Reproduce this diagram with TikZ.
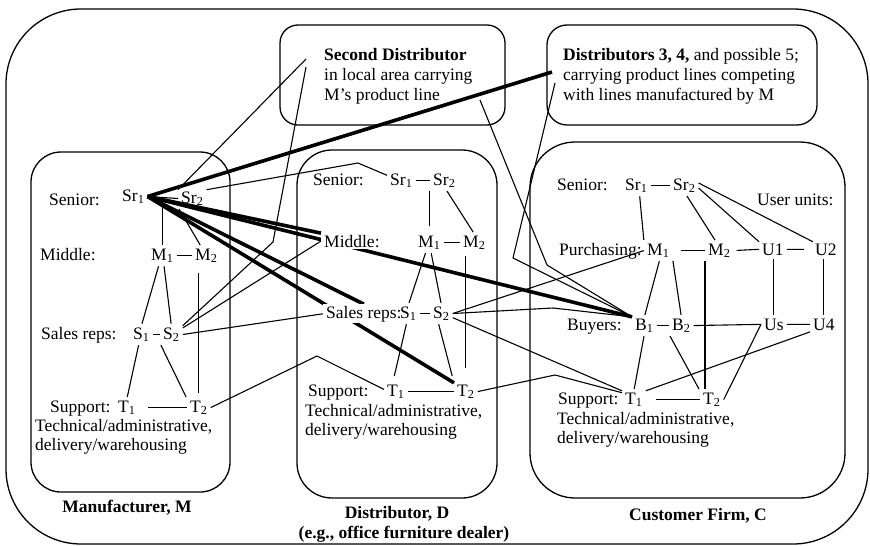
\documentclass[tikz,border=0pt]{standalone}
\usepackage{fontspec}
\setmainfont{Liberation Serif}
\usetikzlibrary{calc}
\pgfdeclarelayer{edges}
\pgfsetlayers{edges,main}

\begin{document}
\begin{tikzpicture}[x=1pt,y=-1pt,
  every node/.style={font=\fontsize{17.5pt}{19.5pt}\selectfont},
  lab/.style={anchor=base west, inner xsep=3pt, inner ysep=1.5pt},
  txt/.style={anchor=base west, inner sep=0pt},
  ttl/.style={anchor=base, inner sep=0pt, font=\fontsize{17.5pt}{19.5pt}\selectfont\bfseries},
  cover/.style={fill=white},
  frame/.style={draw, line width=1.3pt, inner sep=0pt},
  link/.style={line width=1.1pt},
  strong/.style={line width=3.6pt},
]
\useasboundingbox (0,0) rectangle (870,546);

% ---- enclosing frames ----
\node[frame, rounded corners=75pt, minimum width=862pt, minimum height=535pt] (outer) at (437,276.5) {};
\node[frame, rounded corners=18pt, minimum width=225pt, minimum height=100pt] (sdBox) at (392.5,75) {};
\node[frame, rounded corners=20pt, minimum width=270pt, minimum height=100pt] (oBox) at (682,75) {};
\node[frame, rounded corners=30pt, minimum width=199pt, minimum height=340pt] (mBox) at (130.5,322) {};
\node[frame, rounded corners=35pt, minimum width=200pt, minimum height=348pt] (dBox) at (397,324) {};
\node[frame, rounded corners=45pt, minimum width=315pt, minimum height=356pt] (cBox) at (687.5,320) {};

% ---- other distributors ----
\node[txt] (sdA) at (324,60) {\bfseries Second Distributor};
\node[txt] (sdB) at (324,80) {in local area carrying};
\node[txt] (sdC) at (324,100) {M’s product line};
\node[txt] (oA) at (563,60) {\textbf{Distributors 3, 4,} and possible 5;};
\node[txt] (oB) at (563,80) {carrying product lines competing};
\node[txt] (oC) at (563,100) {with lines manufactured by M};

% ---- manufacturer ----
\node[lab] (mSen) at (46,205) {Senior:};
\node[lab] (mSr1) at (119,201) {Sr\textsubscript{1}};
\node[lab] (mSr2) at (178,203) {Sr\textsubscript{2}};
\node[lab] (mMid) at (37,260) {Middle:};
\node[lab] (mM1) at (148,260) {M\textsubscript{1}};
\node[lab] (mM2) at (192,260) {M\textsubscript{2}};
\node[lab] (mSal) at (38,339) {Sales reps:};
\node[lab] (mS1) at (130,339) {S\textsubscript{1}};
\node[lab] (mS2) at (160,339) {S\textsubscript{2}};
\node[lab] (mSup) at (47,412) {Support:};
\node[lab] (mT1) at (115,412) {T\textsubscript{1}};
\node[lab] (mT2) at (187,412) {T\textsubscript{2}};
\node[txt] (mTech) at (35,431) {Technical/administrative,};
\node[txt] (mDel) at (35,450) {delivery/warehousing};
\node[ttl] (mName) at (127,512) {Manufacturer, M};

% ---- distributor ----
\node[lab] (dSen) at (310,185) {Senior:};
\node[lab] (dSr1) at (387,185) {Sr\textsubscript{1}};
\node[lab] (dSr2) at (430,185) {Sr\textsubscript{2}};
\node[lab, cover] (dMid) at (321,247) {Middle:};
\node[lab] (dM1) at (415,247) {M\textsubscript{1}};
\node[lab] (dM2) at (460,247) {M\textsubscript{2}};
\node[lab, cover] (dSal) at (323,318) {Sales reps:};
\node[lab] (dS1) at (397,318) {S\textsubscript{1}};
\node[lab] (dS2) at (430,318) {S\textsubscript{2}};
\node[lab] (dSup) at (305,396) {Support:};
\node[lab] (dT1) at (384,396) {T\textsubscript{1}};
\node[lab] (dT2) at (454,396) {T\textsubscript{2}};
\node[txt] (dTech) at (305,416) {Technical/administrative,};
\node[txt] (dDel) at (305,435) {delivery/warehousing};
\node[ttl] (dName) at (397,518) {Distributor, D};
\node[ttl] (dNote) at (404,538) {(e.g., office furniture dealer)};

% ---- customer ----
\node[lab] (cSen) at (554,190) {Senior:};
\node[lab] (cSr1) at (622,190) {Sr\textsubscript{1}};
\node[lab] (cSr2) at (670,190) {Sr\textsubscript{2}};
\node[lab] (cUsr) at (754,205) {User units:};
\node[lab] (cPur) at (556,255) {Purchasing:};
\node[lab] (cM1) at (644,255) {M\textsubscript{1}};
\node[lab] (cM2) at (705,255) {M\textsubscript{2}};
\node[lab] (cU1) at (759,255) {U1};
\node[lab] (cU2) at (812,255) {U2};
\node[lab] (cBuy) at (564,330) {Buyers:};
\node[lab] (cB1) at (632,330) {B\textsubscript{1}};
\node[lab] (cB2) at (669,330) {B\textsubscript{2}};
\node[lab] (cUs) at (761,330) {Us};
\node[lab] (cU4) at (810,330) {U4};
\node[lab] (cSup) at (555,404) {Support:};
\node[lab] (cT1) at (622,404) {T\textsubscript{1}};
\node[lab] (cT2) at (700,404) {T\textsubscript{2}};
\node[txt] (cTech) at (557,424) {Technical/administrative,};
\node[txt] (cDel) at (557,443) {delivery/warehousing};
\node[ttl] (cName) at (698,520) {Customer Firm, C};

% ---- ports and bends ----
\coordinate (oThick) at (552,72);
\coordinate (oIn) at (555,83);
\coordinate (sdIn1) at (306,59);
\coordinate (sdIn2) at (306,67);
\coordinate (sdOut) at (480,100);
\coordinate (bendA) at (358,163);
\coordinate (bendB) at (273,242);
\coordinate (bendC) at (317,356);
\coordinate (bendD) at (555,375);
\coordinate (bendE) at (553,308);
\coordinate (bendF) at (547,265);
\coordinate (bendG) at (513,258);

\begin{pgfonlayer}{edges}
% manufacturer, internal
\draw[link] (mSr1.east) -- (mSr2.west);
\draw[link, shorten <=2pt, shorten >=2pt] (mM1.north) -- (mM1.north |- mSr1.south);
\draw[link, shorten <=2pt, shorten >=2pt] (mSr2.south west) -- (mM2.120);
\draw[link] (mM1.east) -- (mM2.west);
\draw[link, shorten <=2pt, shorten >=2pt] (mM1.-110) -- (mS1.north);
\draw[link, shorten <=2pt, shorten >=2pt] (mM1.-80) -- (mS2.north);
\draw[link] (mS1.east) -- (mS2.west);
\draw[link, shorten <=9pt, shorten >=6pt] (mM2.south -| mT2.north) -- (mT2.north);
\draw[link, shorten <=2pt, shorten >=2pt] (mS1.-105) -- (mT1.north);
\draw[link, shorten <=2pt, shorten >=2pt] (mS2.south west) -- (mT2.north west);
\draw[link, shorten <=9pt] (mT1.east) -- (mT2.west);

% distributor, internal
\draw[link] (dSr1.east) -- (dSr2.west);
\draw[link, shorten <=2pt, shorten >=8pt] (dM1.north |- dSr1.south) -- (dM1.north);
\draw[link, shorten <=2pt, shorten >=2pt] (dSr2.-80) -- (dM2.north);
\draw[link] (dM1.east) -- (dM2.west);
\draw[link, shorten <=2pt, shorten >=2pt] (dM1.-110) -- (dS1.north);
\draw[link, shorten <=2pt, shorten >=2pt] (dM1.-80) -- (dS2.north);
\draw[link] (dS1.east) -- (dS2.west);
\draw[link, shorten <=5pt, shorten >=15pt] (dM2.south -| dT2.north) -- (dT2.north);
\draw[link, shorten <=2pt, shorten >=7pt] (dS1.-100) -- (dT1.110);
\draw[link, shorten <=2pt, shorten >=7pt] (dS2.-110) -- (dT2.north west);
\draw[link] (dT1.east) -- (dT2.west);

% customer, internal
\draw[link] (cSr1.east) -- (cSr2.west);
\draw[link, shorten <=2pt, shorten >=2pt] (cSr1.-70) -- (cM1.north west);
\draw[link, shorten <=2pt, shorten >=2pt] (cSr2.-80) -- (cM2.110);
\draw[link] (cSr2.-10) -- (cU1.north west);
\draw[link] (cSr2.10) -- (cU2.150);
\draw[link, shorten <=8pt] (cM1.east) -- (cM2.west);
\draw[link, shorten <=3pt] (cM2.east) -- (cU1.west);
\draw[link, shorten >=8pt] (cU1.east) -- (cU2.west);
\draw[link, shorten <=2pt, shorten >=2pt] (cM1.-80) -- (cB1.north);
\draw[link, shorten <=2pt, shorten >=2pt] (cM1.-30) -- (cB2.north);
\draw[link] (cB1.east) -- (cB2.west);
\draw[link] (cB2.east) -- (cUs.west);
\draw[link] (cUs.east) -- (cU4.west);
\draw[link, shorten <=2pt, shorten >=2pt] (cU1.south -| cUs.north) -- (cUs.north);
\draw[link, shorten <=2pt, shorten >=2pt] (cU2.south -| cU4.north) -- (cU4.north);
\draw[link, shorten <=2pt, shorten >=2pt] (cM2.south west) -- (cM2.south west |- cT2.north);
\draw[link, shorten <=2pt, shorten >=2pt] (cB1.south) -- (cT1.north);
\draw[link, shorten <=2pt, shorten >=2pt] (cB2.south west) -- (cT2.north west);
\draw[link] (cU4.south west) -- (cT1.north east);
\draw[link] (cUs.west) -- (cT2.east);
\draw[link, shorten <=10pt] (cT1.east) -- (cT2.west);

% senior manufacturer contacts
\draw[strong] (mSr1.east) -- (oThick);
\draw[strong] (mSr1.east) -- (dMid.north west);
\draw[strong] (mSr1.east) -- (cB1.north west);
\draw[strong] (mSr1.east) -- (dSal.north);
\draw[strong] (mSr1.east) -- (dT2.north west);

% other cross-firm contacts
\draw[link] (mSr2.north west) -- (sdIn1);
\draw[link] (mSr2.north east) -- (bendA) -- (dSr1.160);
\draw[link] (mS2.north east) -- (bendB) -- (sdIn2);
\draw[link] (mS2.30) -- (dMid.west);
\draw[link] (mS2.east) -- (dSal.west);
\draw[link] (mT2.east) -- (bendC) -- (dT1.170);
\draw[link] (dT2.east) -- (bendD) -- (cT1.150);
\draw[link] (dS2.-20) -- (cT1.north west);
\draw[link] (dS2.east) -- (cM1.west);
\draw[link] (dS2.east) -- (bendE) -- (cB1.north west);
\draw[link] (sdOut) -- (bendF) -- (cB1.north west);
\draw[link] (oIn) -- (bendG) -- (cB1.north west);
\end{pgfonlayer}
\end{tikzpicture}
\end{document}
